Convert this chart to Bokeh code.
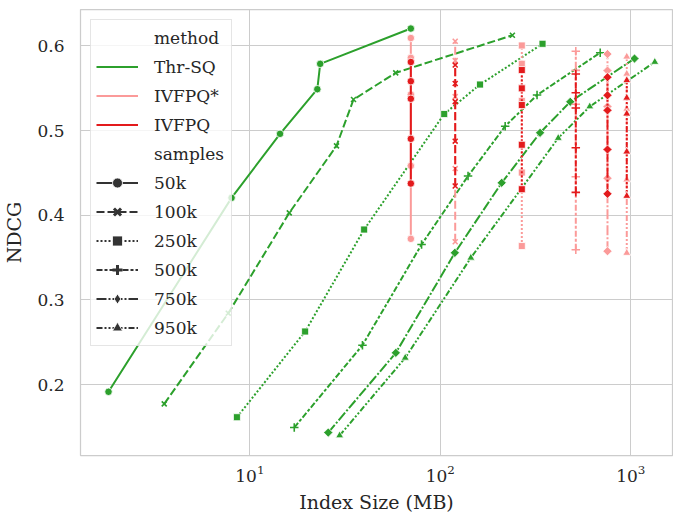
import math
from bokeh.plotting import figure
from bokeh.models import Range1d, FixedTicker, Legend, LegendItem
from bokeh.embed import file_html
from bokeh.resources import INLINE

# ---------------- data ----------------
samples = ["50k", "100k", "250k", "500k", "750k", "950k"]
methods = ["Thr-SQ", "IVFPQ*", "IVFPQ"]
x_ticks = [10, 100, 1000]
y_ticks = [0.2, 0.3, 0.4, 0.5, 0.6]

# Thr-SQ curves (Index size in MB, NDCG)
thr_size_50k = [1.81, 8.01, 14.4, 22.6, 23.4, 70.0]
thr_ndcg_50k = [0.1915, 0.4205, 0.4961, 0.5488, 0.5787, 0.6204]
thr_size_100k = [3.55, 7.70, 16.1, 28.5, 35.0, 58.3, 239]
thr_ndcg_100k = [0.1773, 0.2843, 0.4028, 0.4819, 0.5366, 0.5681, 0.6125]
thr_size_250k = [8.55, 19.5, 39.8, 104.8, 161.6, 344]
thr_ndcg_250k = [0.1615, 0.2627, 0.3831, 0.5195, 0.5543, 0.6024]
thr_size_500k = [17.1, 39.0, 79.7, 139.8, 219, 322, 691]
thr_ndcg_500k = [0.1493, 0.2465, 0.3654, 0.4463, 0.5051, 0.5419, 0.5919]
thr_size_750k = [25.8, 58.4, 119.2, 210, 334, 481, 1046]
thr_ndcg_750k = [0.1434, 0.2375, 0.3556, 0.4383, 0.4973, 0.5339, 0.5850]
thr_size_950k = [29.6, 65.4, 144.6, 416, 609, 1337]
thr_ndcg_950k = [0.1399, 0.2316, 0.3497, 0.4911, 0.5283, 0.5809]

# IVFPQ index sizes (one per sample count)
ivf_size = [70.0, 119.7, 267.8, 514.4, 754.6, 952.7]

# IVFPQ NDCG values
ivfpq_ndcg_50k = [0.5809, 0.5582, 0.5375, 0.4902, 0.4374]
ivfpq_ndcg_100k = [0.5773, 0.5555, 0.5341, 0.4874, 0.4345]
ivfpq_ndcg_250k = [0.5714, 0.5498, 0.5301, 0.4832, 0.4307]
ivfpq_ndcg_500k = [0.5667, 0.5446, 0.5266, 0.4796, 0.4270]
ivfpq_ndcg_750k = [0.5629, 0.5416, 0.5238, 0.4776, 0.4253]
ivfpq_ndcg_950k = [0.5593, 0.5386, 0.5198, 0.4750, 0.4227]

# IVFPQ* NDCG values
ivfpqs_ndcg_50k = [0.6092, 0.5858, 0.5425, 0.4583, 0.3721]
ivfpqs_ndcg_100k = [0.6054, 0.5826, 0.5401, 0.4551, 0.3687]
ivfpqs_ndcg_250k = [0.6004, 0.5788, 0.5350, 0.4504, 0.3636]
ivfpqs_ndcg_500k = [0.5936, 0.5710, 0.5310, 0.4455, 0.3593]
ivfpqs_ndcg_750k = [0.5903, 0.5708, 0.5284, 0.4436, 0.3575]
ivfpqs_ndcg_950k = [0.5871, 0.5669, 0.5256, 0.4421, 0.3554]

thr = {
    "50k": (thr_size_50k, thr_ndcg_50k),
    "100k": (thr_size_100k, thr_ndcg_100k),
    "250k": (thr_size_250k, thr_ndcg_250k),
    "500k": (thr_size_500k, thr_ndcg_500k),
    "750k": (thr_size_750k, thr_ndcg_750k),
    "950k": (thr_size_950k, thr_ndcg_950k),
}
ivfpq = [ivfpq_ndcg_50k, ivfpq_ndcg_100k, ivfpq_ndcg_250k,
         ivfpq_ndcg_500k, ivfpq_ndcg_750k, ivfpq_ndcg_950k]
ivfpqs = [ivfpqs_ndcg_50k, ivfpqs_ndcg_100k, ivfpqs_ndcg_250k,
          ivfpqs_ndcg_500k, ivfpqs_ndcg_750k, ivfpqs_ndcg_950k]

# ---------------- styles ----------------
GREEN, PINK, RED, DARK = "#2ca02c", "#fb9a99", "#e31a1c", "#333333"
TEXT = "#262626"
GRID = "#cccccc"
FONT = "DejaVu Serif"
colors = {"Thr-SQ": GREEN, "IVFPQ*": PINK, "IVFPQ": RED}
dashes = {"50k": "solid", "100k": "8 3", "250k": "2 2",
          "500k": "6 2 3 2", "750k": "10 2 2 2", "950k": "6 2 2 2 2 2"}
markers = {"50k": ("circle", 7.5, 0), "100k": ("x", 7, 0),
           "250k": ("square", 7, 0), "500k": ("cross", 8.5, 0),
           "750k": ("square", 6.5, math.pi / 4), "950k": ("triangle", 8, 0)}
leg_markers = {"50k": ("circle", 10), "100k": ("x", 9), "250k": ("square", 10),
               "500k": ("cross", 11), "750k": ("diamond", 14), "950k": ("triangle", 10)}
LW = 2
NAN = [float("nan")]

p = figure(
    x_axis_type="log",
    x_range=Range1d(1.29, 1656),
    y_range=Range1d(0.1163, 0.6429),
    frame_width=592, frame_height=446,
    min_border_left=78, min_border_right=3, min_border_top=9, min_border_bottom=56,
    output_backend="svg", toolbar_location=None,
    background_fill_color="white", border_fill_color="white",
)
p.outline_line_color = GRID
p.outline_line_width = 1.25


def draw_points(xs, ys, color, s):
    m, size, ang = markers[s]
    if m in ("x", "cross"):
        p.scatter(xs, ys, marker=m, size=size, line_color=color,
                  line_width=1.6, fill_color=None)
    else:
        p.scatter(xs, ys, marker=m, size=size, angle=ang, fill_color=color,
                  line_color="white", line_width=0.8)


for s in samples:
    xs, ys = thr[s]
    p.line(xs, ys, line_color=GREEN, line_width=LW, line_dash=dashes[s])
    draw_points(xs, ys, GREEN, s)

for vals, col in ((ivfpqs, PINK), (ivfpq, RED)):
    for i, s in enumerate(samples):
        ys = sorted(vals[i])
        xs = [ivf_size[i]] * len(ys)
        p.line(xs, ys, line_color=col, line_width=LW, line_dash=dashes[s])
        draw_points(xs, ys, col, s)

p.xaxis.ticker = FixedTicker(ticks=x_ticks)
p.yaxis.ticker = FixedTicker(ticks=y_ticks)
p.xaxis.axis_label = "Index Size (MB)"
p.yaxis.axis_label = "NDCG"
for ax in (p.xaxis, p.yaxis):
    ax.axis_line_color = None
    ax.major_tick_line_color = None
    ax.minor_tick_line_color = None
    ax.major_label_text_font = FONT
    ax.major_label_text_font_size = "17px"
    ax.major_label_text_color = TEXT
    ax.axis_label_text_font = FONT
    ax.axis_label_text_font_size = "19px"
    ax.axis_label_text_font_style = "normal"
    ax.axis_label_text_color = TEXT
p.xaxis.major_label_standoff = 3
p.xaxis.axis_label_standoff = 6
p.yaxis.major_label_standoff = 10
p.yaxis.axis_label_standoff = 9

p.xgrid.grid_line_color = GRID
p.ygrid.grid_line_color = GRID
p.xgrid.grid_line_width = 1
p.ygrid.grid_line_width = 1
p.xgrid.minor_grid_line_color = None

items = []
hdr1 = p.line(NAN, NAN, line_alpha=0)
items.append(LegendItem(label="method", renderers=[hdr1]))
for mth in methods:
    r = p.line(NAN, NAN, line_color=colors[mth], line_width=LW)
    items.append(LegendItem(label=mth, renderers=[r]))
hdr2 = p.line(NAN, NAN, line_alpha=0)
items.append(LegendItem(label="samples", renderers=[hdr2]))
for s in samples:
    rl = p.line(NAN, NAN, line_color=DARK, line_width=LW, line_dash=dashes[s])
    m, size = leg_markers[s]
    if m in ("x", "cross"):
        rm = p.scatter(NAN, NAN, marker=m, size=size, line_color=DARK,
                       line_width=3, fill_color=None)
    else:
        rm = p.scatter(NAN, NAN, marker=m, size=size, fill_color=DARK,
                       line_color="white", line_width=0.8)
    items.append(LegendItem(label=s, renderers=[rl, rm]))

legend = Legend(
    items=items, location="top_left", margin=10, padding=5, spacing=4,
    label_height=25, glyph_height=25, glyph_width=42, label_standoff=16,
    label_width=72,
    label_text_font=FONT, label_text_font_size="17px", label_text_color=TEXT,
    border_line_color=GRID, border_line_width=1,
    background_fill_color="white", background_fill_alpha=0.8,
)
p.add_layout(legend)

open("out.html", "w").write(file_html(p, INLINE))
